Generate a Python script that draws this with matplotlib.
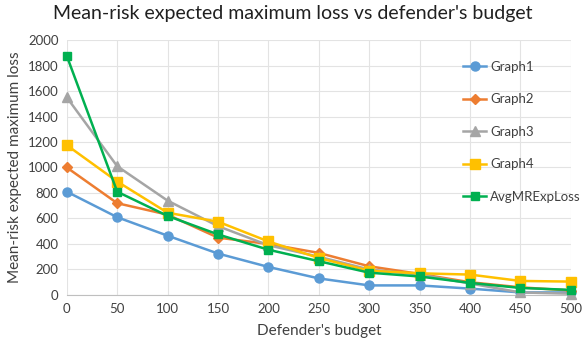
import matplotlib
matplotlib.use("Agg")
import matplotlib.pyplot as plt

plt.rcParams['font.family'] = ['Lato', 'DejaVu Sans']

budget = [0, 50, 100, 150, 200, 250, 300, 350, 400, 450, 500]
graph1 = [810, 610, 465, 325, 220, 130, 75, 75, 50, 20, 20]
graph2 = [1000, 720, 630, 450, 400, 330, 225, 165, 100, 60, 35]
graph3 = [1550, 1010, 740, 540, 390, 300, 200, 160, 90, 20, 10]
graph4 = [1175, 890, 645, 575, 420, 290, 190, 170, 160, 110, 105]
avg = [1875, 810, 620, 475, 355, 265, 175, 145, 95, 55, 40]

series = [
    ("Graph1", graph1, "#5B9BD5", "o", 6.5),
    ("Graph2", graph2, "#ED7D31", "D", 5.5),
    ("Graph3", graph3, "#A5A5A5", "^", 7),
    ("Graph4", graph4, "#FFC000", "s", 6.5),
    ("AvgMRExpLoss", avg, "#00B050", "s", 6),
]

fig = plt.figure(figsize=(5.86, 3.45), dpi=100)
ax = fig.add_axes([0.114, 0.145, 0.86, 0.739])
for name, vals, col, mk, ms in series:
    ax.plot(budget, vals, color=col, marker=mk, markersize=ms, linewidth=1.8,
            label=name, clip_on=False, zorder=3)

ax.set_xlim(0, 500)
ax.set_ylim(0, 2000)
ax.set_xticks(budget)
ax.set_yticks(range(0, 2001, 200))
ax.grid(True, color="#E3E3E3", linewidth=0.8)
ax.set_axisbelow(True)
for s in ["top", "right", "left"]:
    ax.spines[s].set_visible(False)
ax.spines["bottom"].set_color("#BFBFBF")
ax.tick_params(length=0, labelsize=9.5, colors="#404040", pad=6)
ax.set_xlabel("Defender's budget", fontsize=11, color="#404040", labelpad=6)
ax.set_ylabel("Mean-risk expected maximum loss", fontsize=11, color="#404040")
fig.suptitle("Mean-risk expected maximum loss vs defender's budget", fontsize=14,
             color="#202020", x=0.5, y=0.985)
leg = ax.legend(loc="upper left", bbox_to_anchor=(0.762, 0.965), frameon=False,
                fontsize=9.5, labelspacing=1.55, handlelength=1.8, handletextpad=0.3)
for t in leg.get_texts():
    t.set_color("#404040")
fig.savefig("out.png", dpi=100)
